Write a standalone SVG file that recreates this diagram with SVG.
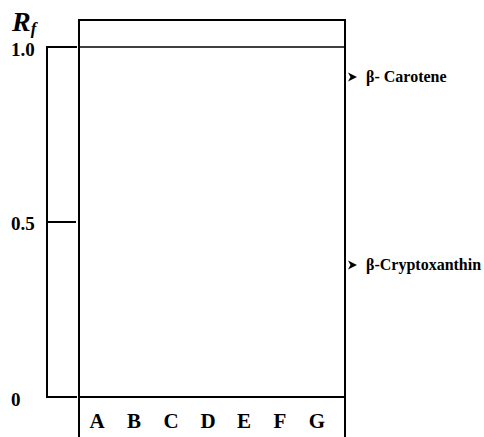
<svg xmlns="http://www.w3.org/2000/svg" width="484" height="437" viewBox="0 0 484 437">
<style>
.ln{stroke:#000;stroke-width:2;fill:none}
.thin{stroke:#000;stroke-width:1.5;fill:none}
.t{font-family:"Liberation Serif","Times New Roman",serif;font-weight:bold;fill:#000}
.ax{font-size:19px}
.lane{font-size:21px;text-anchor:middle}
.cmp{font-size:16px}
</style>
<defs>
<path id="ah" d="M0,-4.5 L9,0 L0,4.5 L2.5,0 Z" fill="#000"/>
</defs>
<rect width="484" height="437" fill="#fff"/>
<g id="plate">
<path class="ln" d="M79,437 V20 H345 V437"/>
<line class="thin" x1="79" y1="47" x2="345" y2="47"/>
<line class="ln" x1="79" y1="397" x2="345" y2="397"/>
</g>
<g id="scale">
<path class="ln" d="M77,47 H47 V397 H77"/>
<line class="ln" x1="47" y1="222" x2="76" y2="222"/>
<text class="t" x="12" y="31" font-size="28" font-style="italic">R<tspan font-size="17" dy="3">f</tspan></text>
<text class="t ax" x="11" y="56">1.0</text>
<text class="t ax" x="11" y="230">0.5</text>
<text class="t ax" x="11" y="406">0</text>
</g>
<g id="lanes">
<text class="t lane" x="97" y="428">A</text>
<text class="t lane" x="134" y="428">B</text>
<text class="t lane" x="171" y="428">C</text>
<text class="t lane" x="208" y="428">D</text>
<text class="t lane" x="244" y="428">E</text>
<text class="t lane" x="280" y="428">F</text>
<text class="t lane" x="317" y="428">G</text>
</g>
<g id="connectors">
<use href="#ah" x="348" y="77"/>
<use href="#ah" x="348" y="265"/>
</g>
<g id="carotene">
<text class="t cmp" x="366" y="82">β- Carotene</text>
</g>
<g id="cryptoxanthin">
<text class="t cmp" x="366" y="270">β-Cryptoxanthin</text>
</g>
</svg>
